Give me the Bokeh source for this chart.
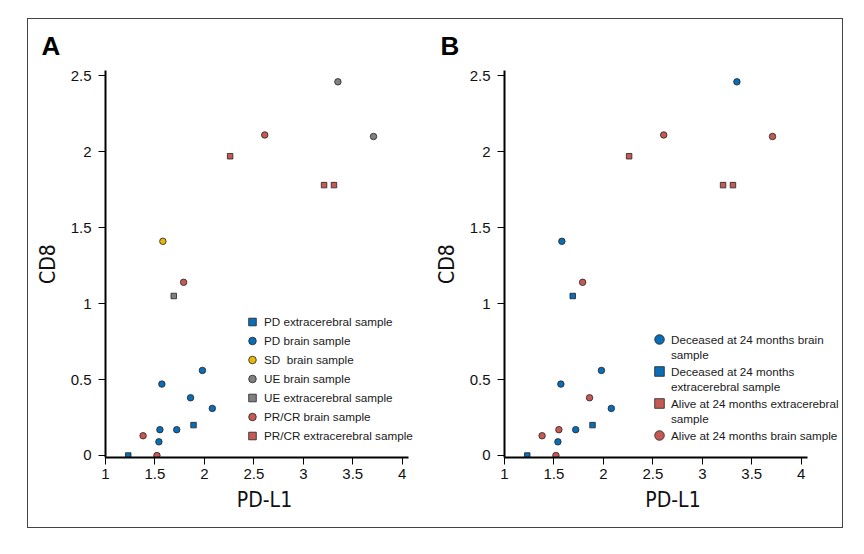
from bokeh.plotting import figure
from bokeh.layouts import row
from bokeh.models import Legend, LegendItem, FixedTicker, Range1d
from bokeh.embed import file_html
from bokeh.resources import INLINE

# ---- data ----
pd_l1 = [3.35, 3.71, 2.61, 2.26, 3.21, 3.31, 1.58, 1.79, 1.69, 1.98,
         1.57, 1.86, 2.08, 1.72, 1.55, 1.54, 1.89, 1.23, 1.38, 1.52]
cd8 = [2.46, 2.10, 2.11, 1.97, 1.78, 1.78, 1.41, 1.14, 1.05, 0.56,
       0.47, 0.38, 0.31, 0.17, 0.17, 0.09, 0.20, 0.00, 0.13, 0.00]
response_group = ["UE brain", "UE brain", "PR/CR brain", "PR/CR extracerebral",
                  "PR/CR extracerebral", "PR/CR extracerebral", "SD brain",
                  "PR/CR brain", "UE extracerebral", "PD brain", "PD brain",
                  "PD brain", "PD brain", "PD brain", "PD brain", "PD brain",
                  "PD extracerebral", "PD extracerebral", "PR/CR brain", "PR/CR brain"]
survival_group = ["Deceased brain", "Alive brain", "Alive brain", "Alive extracerebral",
                  "Alive extracerebral", "Alive extracerebral", "Deceased brain",
                  "Alive brain", "Deceased extracerebral", "Deceased brain",
                  "Deceased brain", "Alive brain", "Deceased brain", "Deceased brain",
                  "Alive brain", "Deceased brain", "Deceased extracerebral",
                  "Deceased extracerebral", "Alive brain", "Alive brain"]

response_keys = ["PD extracerebral", "PD brain", "SD brain", "UE brain",
                 "UE extracerebral", "PR/CR brain", "PR/CR extracerebral"]
response_labels = ["PD extracerebral sample", "PD brain sample", "SD  brain sample",
                   "UE brain sample", "UE extracerebral sample", "PR/CR brain sample",
                   "PR/CR extracerebral sample"]
survival_keys = ["Deceased brain", "Deceased extracerebral", "Alive extracerebral",
                 "Alive brain"]
survival_labels_line1 = ["Deceased at 24 months brain", "Deceased at 24 months",
                         "Alive at 24 months extracerebral",
                         "Alive at 24 months brain sample"]
survival_labels_line2 = ["sample", "extracerebral sample", "sample"]

x_ticks = [1, 1.5, 2, 2.5, 3, 3.5, 4]
x_tick_labels = ["1", "1.5", "2", "2.5", "3", "3.5", "4"]
y_ticks = [0, 0.5, 1, 1.5, 2, 2.5]
y_tick_labels = ["0", "0.5", "1", "1.5", "2", "2.5"]

# ---- styles ----
BLUE, RED, YELLOW, GRAY = "#0a6db6", "#c55a55", "#e7b80a", "#808080"
style = {
    "PD extracerebral": ("square", BLUE), "PD brain": ("circle", BLUE),
    "SD brain": ("circle", YELLOW), "UE brain": ("circle", GRAY),
    "UE extracerebral": ("square", GRAY), "PR/CR brain": ("circle", RED),
    "PR/CR extracerebral": ("square", RED),
    "Deceased brain": ("circle", BLUE), "Deceased extracerebral": ("square", BLUE),
    "Alive extracerebral": ("square", RED), "Alive brain": ("circle", RED),
}
NARROW = "DejaVu Sans Condensed, Roboto"
SANS = "Liberation Sans"
PX_PER_X = 98.9
Y0, Y1 = -0.0132, 2.5345


def legend(items, loc, spacing, glyph_h):
    return Legend(items=items, location=loc, orientation="vertical",
                  glyph_width=24, glyph_height=glyph_h, label_standoff=0, spacing=spacing,
                  padding=0, margin=0, border_line_color=None, background_fill_alpha=0,
                  label_text_font=SANS, label_text_font_size="11.7px",
                  label_text_color="#1a1a1a", label_height=14)


def make_panel(letter, groups, keys, width, left, right):
    frame_w = width - left - right
    p = figure(width=width, height=508, output_backend="svg", toolbar_location=None,
               x_range=Range1d(1, 1 + frame_w / PX_PER_X), y_range=Range1d(Y0, Y1),
               min_border_left=left, min_border_right=right, min_border_top=51,
               min_border_bottom=70, background_fill_color="white",
               border_fill_color="white", outline_line_color=None)
    p.grid.visible = False
    p.title.text = letter
    p.title.align = "left"
    p.title.offset = -64
    p.title.standoff = 19
    p.title.text_font = SANS
    p.title.text_font_size = "26px"
    p.title.text_font_style = "bold"
    p.title.text_color = "black"

    for ax, ticks, lbls in ((p.xaxis[0], x_ticks, x_tick_labels), (p.yaxis[0], y_ticks, y_tick_labels)):
        ax.ticker = FixedTicker(ticks=ticks)
        ax.major_label_overrides = {t: l for t, l in zip(ticks, lbls)}
        ax.axis_line_width = 2
        ax.axis_line_color = "black"
        ax.major_tick_line_color = "black"
        ax.major_tick_line_width = 1
        ax.major_tick_out = 7
        ax.major_tick_in = 0
        ax.minor_tick_out = 0
        ax.minor_tick_in = 0
        ax.major_label_text_font = SANS
        ax.major_label_text_font_size = "15px"
        ax.major_label_text_color = "#111111"
        ax.axis_label_text_font = NARROW
        ax.axis_label_text_font_size = "21px"
        ax.axis_label_text_font_style = "normal"
        ax.axis_label_text_color = "#111111"
    p.xaxis.bounds = (1, 4.06)
    p.xaxis.axis_label = "PD-L1"
    p.yaxis.axis_label = "CD8"
    p.xaxis.major_label_standoff = 4
    p.yaxis.major_label_standoff = 7
    p.xaxis.axis_label_standoff = 6
    p.yaxis.axis_label_standoff = 8

    renderers = []
    for key in keys:
        xs = [x for x, g in zip(pd_l1, groups) if g == key]
        ys = [y for y, g in zip(cd8, groups) if g == key]
        marker, color = style[key]
        r = p.scatter(xs, ys, marker=marker, size=6.5 if marker == "circle" else 5.5,
                      fill_color=color, line_color="#222222", line_width=0.8)
        renderers.append(r)
    return p, renderers


pa, ra = make_panel("A", response_group, response_keys, 398, 77, 3)
pa.add_layout(legend([LegendItem(label=l, renderers=[r]) for l, r in zip(response_labels, ra)],
                     (135, 12), 0, 19), "center")

pb, rb = make_panel("B", survival_group, survival_keys, 416, 78, 1)
pb.add_layout(legend([LegendItem(label=l, renderers=[r]) for l, r in zip(survival_labels_line1, rb)],
                     (143, 10), 8, 24), "center")
blank = pb.scatter([], [], marker="circle", fill_alpha=0, line_alpha=0)
pb.add_layout(legend([LegendItem(label=l, renderers=[blank]) for l in survival_labels_line2],
                     (143, 27), 8, 24), "center")

layout = row(pa, pb, styles={"border": "1.5px solid #444444", "margin-left": "27px",
                             "margin-top": "18px"})
open("out.html", "w").write(file_html(layout, INLINE))
